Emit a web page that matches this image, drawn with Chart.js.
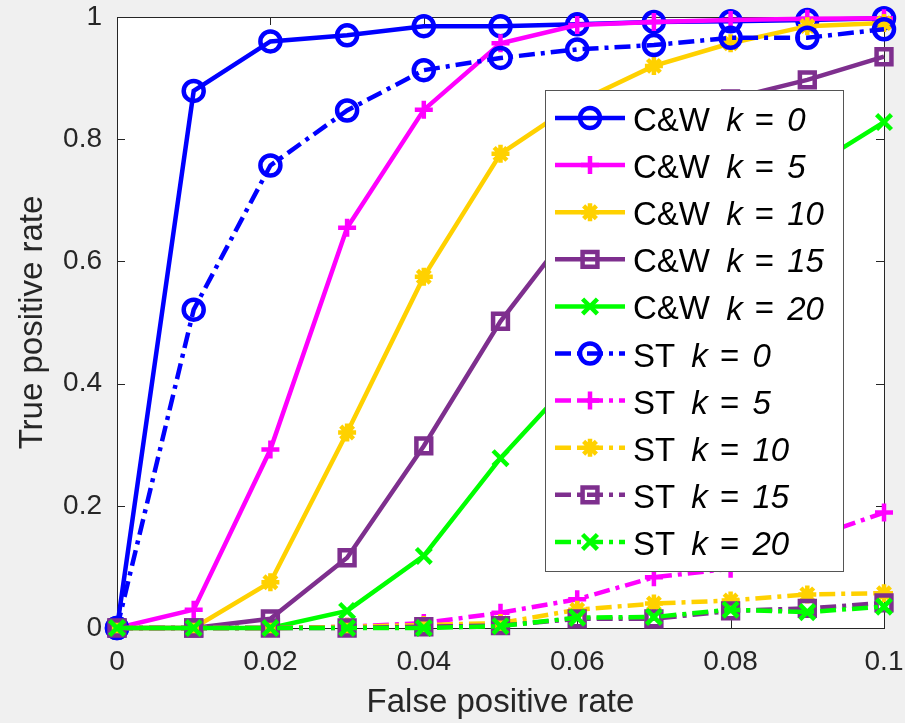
<!DOCTYPE html>
<html><head><meta charset="utf-8">
<script src="https://cdn.jsdelivr.net/npm/chart.js@4"></script>
<style>html,body{margin:0;padding:0;background:#f0f0f0;} canvas{display:block;}</style>
</head><body>
<canvas id="c" width="905" height="723"></canvas>
<script>
// ---- data ----
const fpr = [0, 0.01, 0.02, 0.03, 0.04, 0.05, 0.06, 0.07, 0.08, 0.09, 0.1];
const xTicks = [0, 0.02, 0.04, 0.06, 0.08, 0.1];
const xTickLabels = ['0', '0.02', '0.04', '0.06', '0.08', '0.1'];
const yTicks = [0, 0.2, 0.4, 0.6, 0.8, 1];
const yTickLabels = ['0', '0.2', '0.4', '0.6', '0.8', '1'];
const methods = ['C&W', 'ST'];
const kValues = ['0', '5', '10', '15', '20'];

const cw_k0  = [0, 0.879, 0.96, 0.97, 0.985, 0.985, 0.988, 0.992, 0.993, 0.995, 0.998];
const cw_k5  = [0, 0.03, 0.292, 0.655, 0.848, 0.957, 0.987, 0.992, 0.995, 0.997, 0.998];
const cw_k10 = [0, 0, 0.075, 0.32, 0.575, 0.776, 0.86, 0.92, 0.957, 0.985, 0.99];
const cw_k15 = [0, 0, 0.015, 0.115, 0.298, 0.502, 0.665, 0.78, 0.866, 0.897, 0.935];
const cw_k20 = [0, 0, 0, 0.028, 0.118, 0.278, 0.414, 0.54, 0.655, 0.75, 0.828];
const st_k0  = [0, 0.521, 0.757, 0.847, 0.913, 0.933, 0.947, 0.954, 0.966, 0.966, 0.98];
const st_k5  = [0, 0, 0, 0.002, 0.008, 0.025, 0.047, 0.083, 0.097, 0.145, 0.189];
const st_k10 = [0, 0, 0, 0.002, 0.005, 0.008, 0.03, 0.04, 0.045, 0.055, 0.057];
const st_k15 = [0, 0, 0, 0, 0.002, 0.004, 0.015, 0.015, 0.028, 0.032, 0.041];
const st_k20 = [0, 0, 0, 0, 0, 0.003, 0.017, 0.018, 0.03, 0.026, 0.035];

const seriesColors = ['#0000FF', '#FF00FF', '#FFD100', '#7E2F8E', '#00FF00'];
const markerStyles = ['circle', 'cross', 'star', 'rect', 'crossRot'];
const markerRadii = [10, 9, 9, 10.5, 10.5];

const cwSeries = [cw_k0, cw_k5, cw_k10, cw_k15, cw_k20];
const stSeries = [st_k0, st_k5, st_k10, st_k15, st_k20];

const FONT = '"Liberation Sans", Arial, Helvetica, sans-serif';
const AXIS_COLOR = '#262626';

const datasets = [];
[cwSeries, stSeries].forEach((group, g) => {
  group.forEach((vals, i) => {
    datasets.push({
      label: methods[g] + ' k = ' + kValues[i],
      method: methods[g],
      kValue: kValues[i],
      data: vals.map((v, j) => ({ x: fpr[j], y: v })),
      borderColor: seriesColors[i],
      backgroundColor: 'rgba(0,0,0,0)',
      pointBorderColor: seriesColors[i],
      pointBackgroundColor: 'rgba(0,0,0,0)',
      borderWidth: 4.5,
      pointBorderWidth: 4.5,
      pointRadius: markerRadii[i],
      pointHoverRadius: markerRadii[i],
      pointStyle: markerStyles[i],
      borderDash: g ? [16, 6, 4, 6] : [],
      tension: 0,
      clip: false,
      fill: false,
      order: 100 - datasets.length
    });
  });
});

const bgPlugin = {
  id: 'bg',
  beforeDraw(chart) {
    const { ctx, chartArea: a } = chart;
    ctx.save();
    ctx.fillStyle = '#f0f0f0';
    ctx.fillRect(0, 0, chart.width, chart.height);
    ctx.fillStyle = '#ffffff';
    ctx.fillRect(a.left, a.top, a.right - a.left, a.bottom - a.top);
    ctx.restore();
  },
  beforeDatasetsDraw(chart) {
    const { ctx, chartArea: a, scales } = chart;
    ctx.save();
    ctx.strokeStyle = AXIS_COLOR;
    ctx.lineWidth = 1;
    const tl = 8;
    ctx.beginPath();
    xTicks.forEach(v => {
      const px = Math.round(scales.x.getPixelForValue(v)) + 0.5;
      ctx.moveTo(px, a.bottom); ctx.lineTo(px, a.bottom - tl);
      ctx.moveTo(px, a.top); ctx.lineTo(px, a.top + tl);
    });
    yTicks.forEach(v => {
      const py = Math.round(scales.y.getPixelForValue(v)) + 0.5;
      ctx.moveTo(a.left, py); ctx.lineTo(a.left + tl, py);
      ctx.moveTo(a.right, py); ctx.lineTo(a.right - tl, py);
    });
    ctx.stroke();
    ctx.strokeRect(Math.round(a.left) + 0.5, Math.round(a.top) + 0.5,
      Math.round(a.right - a.left), Math.round(a.bottom - a.top));
    ctx.restore();
  }
};

const legendPlugin = {
  id: 'matlabLegend',
  afterDraw(chart) {
    const ctx = chart.ctx;
    const bx = 545, by = 90, bw = 298, bh = 481;
    ctx.save();
    ctx.fillStyle = '#ffffff';
    ctx.fillRect(bx, by, bw, bh);
    ctx.strokeStyle = '#555555';
    ctx.lineWidth = 1;
    ctx.strokeRect(bx + 0.5, by + 0.5, bw, bh);
    const rowStart = 118, rowGap = 47.1;
    const normal = '33px ' + FONT, italic = 'italic 33px ' + FONT;
    const gaps = [7, 3, 4];
    chart.data.datasets.forEach((ds, i) => {
      const cy = rowStart + i * rowGap;
      ctx.strokeStyle = ds.borderColor;
      ctx.lineWidth = ds.borderWidth;
      ctx.setLineDash(ds.borderDash || []);
      ctx.beginPath();
      ctx.moveTo(555, cy); ctx.lineTo(625, cy);
      ctx.stroke();
      ctx.setLineDash([]);
      ctx.fillStyle = 'rgba(0,0,0,0)';
      ctx.strokeStyle = ds.pointBorderColor;
      ctx.lineWidth = ds.pointBorderWidth;
      Chart.helpers.drawPoint(ctx, { pointStyle: ds.pointStyle, radius: ds.pointRadius, borderWidth: ds.pointBorderWidth, rotation: 0 }, 590, cy);
      // text: method (upright) k (italic) = (upright) value (italic)
      ctx.fillStyle = '#000000';
      ctx.textBaseline = 'middle';
      ctx.textAlign = 'left';
      let x = 633;
      const ty = cy + 4;
      const segs = [[ds.method, normal], ['k', italic], ['=', normal], [ds.kValue, italic]];
      segs.forEach((s, si) => {
        ctx.font = s[1];
        ctx.fillText(s[0], x, ty);
        x += ctx.measureText(s[0]).width;
        if (si < segs.length - 1) { ctx.font = normal; x += ctx.measureText(' ').width + gaps[si]; }
      });
    });
    ctx.restore();
  }
};

new Chart(document.getElementById('c'), {
  type: 'line',
  data: { datasets },
  plugins: [bgPlugin, legendPlugin],
  options: {
    responsive: false,
    animation: false,
    devicePixelRatio: 1,
    layout: { padding: { top: 17, right: 21, left: 0, bottom: 0 } },
    plugins: { legend: { display: false }, tooltip: { enabled: false } },
    elements: { line: { borderCapStyle: 'butt', borderJoinStyle: 'miter' } },
    scales: {
      x: {
        type: 'linear', position: 'bottom', min: 0, max: 0.1,
        grid: { display: false, drawTicks: false },
        border: { display: false },
        afterBuildTicks: s => { s.ticks = xTicks.map(v => ({ value: v })); },
        afterFit: s => { s.height = 95; s.paddingLeft = 0; s.paddingRight = 0; },
        ticks: {
          font: { family: FONT, size: 28 }, color: AXIS_COLOR, padding: 17,
          maxRotation: 0, autoSkip: false,
          callback: (v, i) => xTickLabels[i]
        },
        title: { display: true, text: 'False positive rate', color: AXIS_COLOR,
          font: { family: FONT, size: 33 }, padding: { top: 0, bottom: 0 } }
      },
      y: {
        type: 'linear', position: 'left', min: 0, max: 1,
        grid: { display: false, drawTicks: false },
        border: { display: false },
        afterBuildTicks: s => { s.ticks = yTicks.map(v => ({ value: v })); },
        afterFit: s => { s.width = 117; s.paddingTop = 0; s.paddingBottom = 0; },
        ticks: {
          font: { family: FONT, size: 28 }, color: AXIS_COLOR, padding: 15,
          autoSkip: false,
          callback: (v, i) => yTickLabels[i]
        },
        title: { display: true, text: 'True positive rate', color: AXIS_COLOR,
          font: { family: FONT, size: 33 }, padding: { top: 13, bottom: 0 } }
      }
    }
  }
});
</script>
</body></html>
